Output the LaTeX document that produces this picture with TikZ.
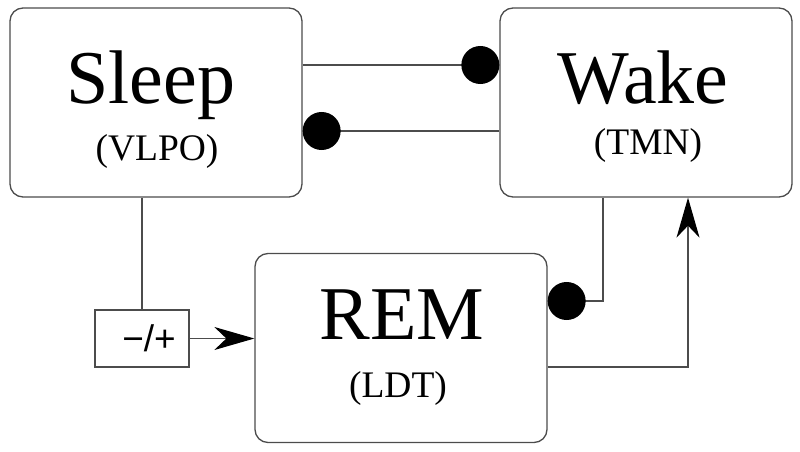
\documentclass[tikz,border=0pt]{standalone}
\usepackage{fontspec}
\setmainfont{Liberation Serif}
\newfontfamily\pmfont{Liberation Sans}
\usetikzlibrary{arrows.meta}
\tikzset{
  box/.style={draw=black!70, line width=1.3pt, rounded corners=13pt, minimum width=292pt, minimum height=189pt, inner sep=0pt},
  smallbox/.style={draw=black!70, line width=1.3pt, minimum width=94pt, minimum height=57pt, inner sep=0pt},
  title/.style={anchor=base, inner sep=0pt, font=\fontsize{76}{80}\selectfont},
  sub/.style={anchor=base, inner sep=0pt, font=\fontsize{37.5}{40}\selectfont},
  conn/.style={draw=black!70, line width=1.3pt},
  inh/.style={conn, -{Circle[length=38pt, color=black, fill=black]}},
  act/.style={conn, -{Stealth[length=40pt, width=23pt, inset=12pt, color=black, fill=black]}}
}
\begin{document}
\begin{tikzpicture}[x=1pt, y=-1pt]
\useasboundingbox (0,0) rectangle (800,452);
% boxes
\node[box] (sleep) at (156,102.5) {};
\node[box] (wake) at (646,102.5) {};
\node[box] (rem) at (401,348) {};
\node[smallbox] (pm) at (142,338.5) {};
% texts
\node[title] (sleept) at (151,103) {Sleep};
\node[sub] (sleeps) at (157,160) {(VLPO)};
\node[title] (waket) at (643,103) {Wake};
\node[sub] (wakes) at (648,154) {(TMN)};
\node[title] (remt) at (402,339) {REM};
\node[sub] (rems) at (398,397) {(LDT)};
\node[anchor=base, inner sep=0pt, font=\pmfont\fontsize{37}{40}\selectfont] (pmt) at (149,351) {−/+};
% connectors
\draw[inh] (sleep.east |- 0,65) -- (wake.west |- 0,65);
\draw[inh] (wake.west |- 0,131) -- (sleep.east |- 0,131);
\draw[conn] (sleep.south -| 142,0) -- (pm.north);
\draw[act] (pm.east) -- (rem.west |- pm.east);
\draw[inh] (wake.south -| 603,0) |- (rem.east |- 0,301);
\draw[act] (rem.east |- 0,367) -| (wake.south -| 688,0);
\end{tikzpicture}
\end{document}
